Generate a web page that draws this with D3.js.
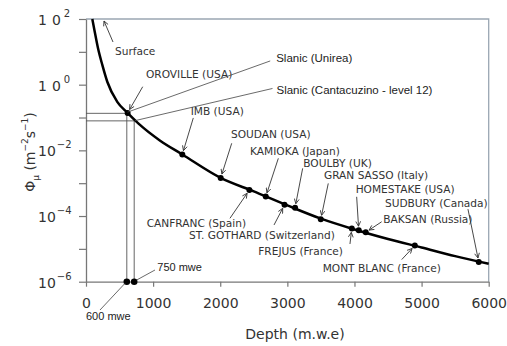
<!DOCTYPE html>
<html><head><meta charset="utf-8">
<script src="https://cdn.jsdelivr.net/npm/d3@7"></script>
<style>html,body{margin:0;padding:0;background:#fff;}svg{display:block;}</style>
</head><body>
<script>
// ---- data ----
const curveDepth = [94, 130, 179, 243, 317, 466, 615, 779, 1100, 1435, 2007, 2500, 3000, 3500, 4000, 4500, 5000, 5500, 6000];
const curveFlux  = [100, 41, 12.8, 4.0, 1.23, 0.30, 0.14, 0.066, 0.02, 7.5e-3, 1.45e-3, 5.6e-4, 2.1e-4, 8.3e-5, 3.9e-5, 2.0e-5, 1.1e-5, 6.0e-6, 3.5e-6];

const siteNames = ["OROVILLE (USA)", "IMB (USA)", "SOUDAN (USA)", "CANFRANC (Spain)", "KAMIOKA (Japan)", "ST. GOTHARD (Switzerland)", "BOULBY (UK)", "GRAN SASSO (Italy)", "FREJUS (France)", "HOMESTAKE (USA)", "BAKSAN (Russia)", "MONT BLANC (France)", "SUDBURY (Canada)"];
const siteDepth = [620, 1435, 2007, 2434, 2678, 2958, 3115, 3498, 3960, 4064, 4168, 4899, 5852];
const siteFlux  = [0.138, 7.5e-3, 1.45e-3, 6.2e-4, 3.9e-4, 2.2e-4, 1.8e-4, 8.0e-5, 4.2e-5, 3.7e-5, 3.2e-5, 1.26e-5, 4.0e-6];

const slanicNames = ["Slanic (Unirea)", "Slanic (Cantacuzino - level 12)"];
const slanicDepth = [608, 718];
const slanicFlux  = [0.134, 0.079];
const slanicMwe   = ["600 mwe", "750 mwe"];

const xTicks = [0, 1000, 2000, 3000, 4000, 5000, 6000];
const yTickExp = [2, 1, 0, -1, -2, -3, -4, -5, -6];
const yLabelExp = [2, 0, -2, -4, -6];
const xTitle = "Depth (m.w.e)";

// ---- layout (label offsets in px relative to marked point) ----
const siteLayout = {
  "OROVILLE (USA)": {t:[18.4,-38.9], a:[15.1,-26.2]},
  "IMB (USA)": {t:[8.4,-42.8], a:[11,-36.5]},
  "SOUDAN (USA)": {t:[10.3,-43.9], a:[11,-34.6]},
  "KAMIOKA (Japan)": {t:[-15.7,-45.9], a:[12.6,-38.3]},
  "BOULBY (UK)": {t:[8.2,-44.3], a:[7.6,-39.3]},
  "GRAN SASSO (Italy)": {t:[3.2,-44.1], a:[7.5,-35.8]},
  "HOMESTAKE (USA)": {t:[-3.1,-41.1], a:[-2.1,-33.4]},
  "SUDBURY (Canada)": {t:[-93.8,-58.5], a:[-10.8,-52.8]},
  "BAKSAN (Russia)": {t:[17.5,-13.2], a:[15.9,-10.5]},
  "CANFRANC (Spain)": {t:[-102.7,32.7], a:[-19.4,28.3]},
  "ST. GOTHARD (Switzerland)": {t:[-95.5,30.2], a:[-10.5,20.2]},
  "FREJUS (France)": {t:[-93.5,22.3], a:[-1.8,15.6]},
  "MONT BLANC (France)": {t:[-92.1,22.4], a:[-13.1,14]}
};

const W = 507, H = 346;
const svg = d3.select("body").append("svg").attr("width", W).attr("height", H);
const x = d3.scaleLinear().domain([0, 6000]).range([86, 488.7]);
const y = d3.scaleLog().domain([1e-6, 1e2]).range([281.7, 19]);

svg.append("defs").append("marker")
  .attr("id", "arr").attr("viewBox", "0 0 10 10").attr("refX", 9).attr("refY", 5)
  .attr("markerWidth", 6).attr("markerHeight", 6).attr("orient", "auto-start-reverse")
  .attr("markerUnits", "userSpaceOnUse")
  .append("path").attr("d", "M1,1 L9,5 L1,9").attr("fill", "none").attr("stroke", "#333").attr("stroke-width", 1.4);

// frame top/right
svg.append("path").attr("d", `M${x(0)},${y(1e2)}H${x(6000)}V${y(1e-6)}`)
  .attr("fill", "none").attr("stroke", "#9aa7b3").attr("stroke-width", 1.3);

// axes
const xAxis = svg.append("g").attr("transform", `translate(0,${y(1e-6)})`)
  .call(d3.axisBottom(x).tickValues(xTicks).tickSize(5).tickSizeOuter(0).tickPadding(11).tickFormat(d3.format("d")));
xAxis.selectAll("text").attr("font-family", "DejaVu Sans").attr("font-size", 14).attr("fill", "#333");
const yAxis = svg.append("g").attr("transform", `translate(${x(0)},0)`)
  .call(d3.axisLeft(y).tickValues(yTickExp.map(e => Math.pow(10, e))).tickSize(7).tickSizeOuter(0).tickFormat(""));
[xAxis, yAxis].forEach(g => { g.select(".domain").attr("stroke", "#777").attr("stroke-width", 1.3); g.selectAll(".tick line").attr("stroke", "#777").attr("stroke-width", 1.2); });

// y labels 10^n
yLabelExp.forEach(e => {
  const t = svg.append("text").attr("x", 38).attr("y", y(Math.pow(10, e)) + 6)
    .attr("font-family", "DejaVu Sans").attr("font-size", 14).attr("fill", "#333");
  t.append("tspan").text("1");
  t.append("tspan").attr("dx", e >= 0 ? 5 : 0).text("0");
  t.append("tspan").attr("dx", e >= 0 ? 3 : 1).attr("dy", -8).attr("font-size", 10).text(e < 0 ? "−" + Math.abs(e) : String(e));
});

// axis titles
svg.append("text").attr("x", 295).attr("y", 339).attr("text-anchor", "middle")
  .attr("font-family", "DejaVu Sans").attr("font-size", 14).attr("fill", "#333").text(xTitle);
const yt = svg.append("text").attr("transform", "translate(35,152) rotate(-90)").attr("text-anchor", "middle")
  .attr("font-family", "DejaVu Sans").attr("font-size", 14).attr("fill", "#333");
yt.append("tspan").text("Φ");
yt.append("tspan").attr("font-size", 9).attr("dy", 4).text("μ");
yt.append("tspan").attr("dy", -4).text(" (m");
yt.append("tspan").attr("font-size", 9).attr("dy", -7).text("−2");
yt.append("tspan").attr("dy", 7).text("s");
yt.append("tspan").attr("font-size", 9).attr("dy", -7).text("−1");
yt.append("tspan").attr("dy", 7).text(")");

// slanic guide lines
slanicDepth.forEach((d, i) => {
  svg.append("path").attr("d", `M${x(0)},${y(slanicFlux[i])}H${x(d)}V${y(1e-6)}`)
    .attr("fill", "none").attr("stroke", "#555").attr("stroke-width", 0.9);
});

// curve
const pts = curveDepth.map((d, i) => [x(d), y(curveFlux[i])]);
svg.append("path").attr("d", d3.line().curve(d3.curveMonotoneX)(pts))
  .attr("fill", "none").attr("stroke", "#000").attr("stroke-width", 2.5);

// site dots
siteDepth.forEach((d, i) => {
  svg.append("circle").attr("cx", x(d)).attr("cy", y(siteFlux[i])).attr("r", 3).attr("fill", "#000");
});
slanicDepth.forEach(d => {
  svg.append("circle").attr("cx", x(d)).attr("cy", y(1e-6)).attr("r", 3.3).attr("fill", "#000");
});

// site labels + arrows
const lblFont = "DejaVu Sans";
siteNames.forEach((n, i) => {
  const px = x(siteDepth[i]), py = y(siteFlux[i]);
  const L = siteLayout[n];
  const ax = L.a[0], ay = L.a[1], len = Math.hypot(ax, ay);
  const gap = 4;
  svg.append("line").attr("x1", px + ax).attr("y1", py + ay)
    .attr("x2", px + ax / len * gap).attr("y2", py + ay / len * gap)
    .attr("stroke", "#333").attr("stroke-width", 0.9).attr("marker-end", "url(#arr)");
  svg.append("text").attr("x", px + L.t[0]).attr("y", py + L.t[1]).attr("dy", "0.36em")
    .attr("font-family", lblFont).attr("font-size", 10.6).attr("fill", "#333").text(n);
});

// surface annotation (anchored on first curve point)
{
  const px = x(curveDepth[0]), py = y(curveFlux[0]);
  svg.append("line").attr("x1", px + 20.7).attr("y1", py + 23).attr("x2", px + 11.7).attr("y2", py + 2)
    .attr("stroke", "#333").attr("stroke-width", 0.9).attr("marker-end", "url(#arr)");
  svg.append("text").attr("x", px + 22.7).attr("y", py + 31.7).attr("dy", "0.36em")
    .attr("font-family", lblFont).attr("font-size", 10.6).attr("fill", "#333").text("Surface");
}

// slanic leader lines & labels
const slanicLbl = [{tail:[0.7,-1.2], end:[143.4,-52.4], t:[149.4,-55]}, {tail:[0.7,-0.2], end:[138.3,-32.4], t:[142.3,-31.4]}];
slanicDepth.forEach((d, i) => {
  const px = x(d), py = y(slanicFlux[i]), S = slanicLbl[i];
  svg.append("line").attr("x1", px + S.tail[0]).attr("y1", py + S.tail[1]).attr("x2", px + S.end[0]).attr("y2", py + S.end[1])
    .attr("stroke", "#444").attr("stroke-width", 0.8);
  svg.append("text").attr("x", px + S.t[0]).attr("y", py + S.t[1]).attr("dy", "0.36em")
    .attr("font-family", "Liberation Sans").attr("font-size", 11.5).attr("fill", "#222").text(slanicNames[i]);
});

// mwe labels
const mweLbl = [{a:[-26.8,28.3], b:[-1.8,1.6], t:[-40.8,34]}, {a:[2.5,-1.7], b:[20.8,-11.7], t:[23.1,-14.4]}];
slanicDepth.forEach((d, i) => {
  const px = x(d), py = y(1e-6), M = mweLbl[i];
  svg.append("line").attr("x1", px + M.a[0]).attr("y1", py + M.a[1]).attr("x2", px + M.b[0]).attr("y2", py + M.b[1])
    .attr("stroke", "#444").attr("stroke-width", 0.8);
  svg.append("text").attr("x", px + M.t[0]).attr("y", py + M.t[1]).attr("dy", "0.36em")
    .attr("font-family", "Liberation Sans").attr("font-size", 11).attr("fill", "#222").text(slanicMwe[i]);
});
</script>
</body></html>
